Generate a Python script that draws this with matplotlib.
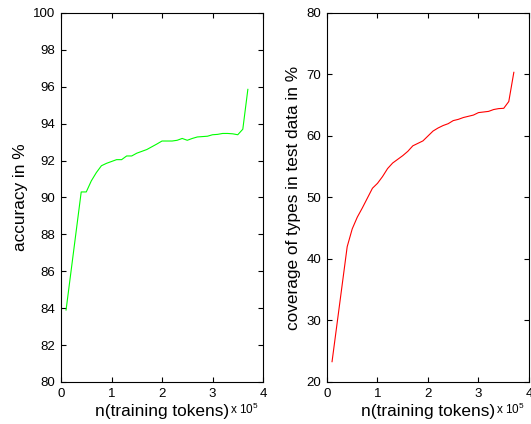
import matplotlib
matplotlib.use('Agg')
import matplotlib.pyplot as plt

plt.rcParams['font.family'] = ['Liberation Sans', 'DejaVu Sans']
plt.rcParams['mathtext.default'] = 'regular'

# training set size (x 10^5 tokens)
acc_x = [0.1, 0.4, 0.5, 0.6, 0.7, 0.8, 0.9, 1.0, 1.1, 1.2, 1.3, 1.4, 1.5, 1.6, 1.7,
         1.8, 1.9, 2.0, 2.1, 2.2, 2.3, 2.4, 2.5, 2.6, 2.7, 2.8, 2.9, 3.0, 3.1, 3.2,
         3.3, 3.4, 3.5, 3.6, 3.7]
acc_y = [83.9, 90.3, 90.3, 90.9, 91.35, 91.72, 91.85, 91.95, 92.05, 92.05, 92.25,
         92.25, 92.4, 92.5, 92.6, 92.75, 92.9, 93.06, 93.06, 93.06, 93.1, 93.2, 93.1,
         93.2, 93.28, 93.3, 93.32, 93.4, 93.42, 93.47, 93.47, 93.45, 93.4, 93.7, 95.86]

cov_x = [0.1, 0.4, 0.5, 0.6, 0.7, 0.8, 0.9, 1.0, 1.1, 1.2, 1.3, 1.4, 1.5, 1.6, 1.7,
         1.8, 1.9, 2.0, 2.1, 2.2, 2.3, 2.4, 2.5, 2.6, 2.7, 2.8, 2.9, 3.0, 3.1, 3.2,
         3.3, 3.4, 3.5, 3.6, 3.7]
cov_y = [23.3, 42.0, 44.9, 46.8, 48.3, 49.9, 51.5, 52.3, 53.4, 54.7, 55.6, 56.2,
         56.8, 57.5, 58.4, 58.8, 59.2, 60.0, 60.8, 61.3, 61.7, 62.0, 62.5, 62.7,
         63.0, 63.2, 63.4, 63.8, 63.9, 64.0, 64.3, 64.45, 64.5, 65.6, 70.35]

fig = plt.figure(figsize=(5.31, 4.24), dpi=100)
ax1 = fig.add_axes([0.1149, 0.0991, 0.3804, 0.8703])
ax2 = fig.add_axes([0.6158, 0.0991, 0.3804, 0.8703])

ax1.plot(acc_x, acc_y, color='#00ff00', lw=0.8)
ax2.plot(cov_x, cov_y, color='red', lw=0.8)

ax1.set_ylim(80, 100)
ax1.set_yticks(range(80, 101, 2))
ax1.set_ylabel('accuracy in %', fontsize=12.4, labelpad=4)
ax2.set_ylim(20, 80)
ax2.set_yticks(range(20, 81, 10))
ax2.set_ylabel('coverage of types in test data in %', fontsize=12.4, labelpad=4)

for ax in (ax1, ax2):
    ax.set_xlim(0, 4)
    ax.set_xticks([0, 1, 2, 3, 4])
    ax.tick_params(direction='in', top=True, right=True, length=3.5, width=0.8,
                   labelsize=9.5, pad=4)
    for s in ax.spines.values():
        s.set_linewidth(0.8)
    ax.set_xlabel('n(training tokens)', fontsize=12.4, labelpad=3)
    ax.text(0.835, -0.088, 'x 10$^{5}$', transform=ax.transAxes, fontsize=8.5,
            va='baseline', ha='left')

fig.savefig('out.png', dpi=100)
